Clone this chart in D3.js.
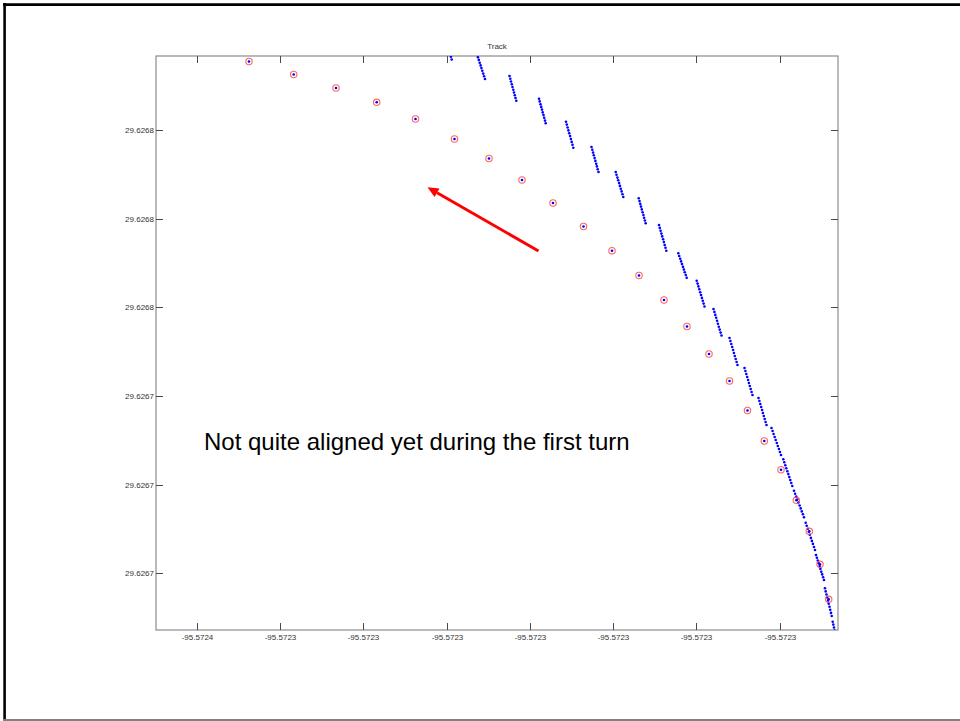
<!DOCTYPE html>
<html>
<head>
<meta charset="utf-8">
<script src="https://cdn.jsdelivr.net/npm/d3@7/dist/d3.min.js"></script>
<style>
  html, body { margin: 0; padding: 0; background: #fff; }
  svg { display: block; font-family: "Liberation Sans", Arial, Helvetica, sans-serif; }
</style>
</head>
<body>
<svg id="chart" width="960" height="721"></svg>
<script>
// GPS fixes (longitude / latitude, degrees)
const gpsLon = [-95.5723501, -95.57234563, -95.5723414, -95.57233733, -95.57233345, -95.57232955,
  -95.5723261, -95.5723228, -95.5723197, -95.57231665, -95.5723138, -95.5723111, -95.5723086,
  -95.5723063, -95.5723041, -95.57230205, -95.57230025, -95.57229857, -95.5722969, -95.57229537,
  -95.57229407, -95.572293, -95.57229213];
const gpsLat = [29.62677885, 29.62677755, 29.6267762, 29.62677477, 29.6267731, 29.6267711,
  29.62676915, 29.626767, 29.6267647, 29.62676235, 29.62675993, 29.62675745, 29.626755,
  29.62675235, 29.6267496, 29.6267469, 29.62674395, 29.6267409, 29.62673803, 29.62673497,
  29.62673187, 29.62672857, 29.62672507];

// Estimated track positions, one line per burst of samples
const trackLon = [
  -95.57233055, -95.57233047, -95.57233039, -95.57233031, -95.57233023, -95.57233015, -95.57233007, -95.57232999, -95.57232991, -95.57232983,
  -95.5723273, -95.57232721, -95.57232712, -95.57232703, -95.57232694, -95.57232686, -95.57232677, -95.57232668, -95.57232659, -95.5723265,
  -95.57232405, -95.57232397, -95.5723239, -95.57232382, -95.57232375, -95.57232367, -95.5723236, -95.57232352, -95.57232345, -95.57232337,
  -95.5723211, -95.57232103, -95.57232095, -95.57232088, -95.5723208, -95.57232073, -95.57232065, -95.57232058, -95.5723205, -95.57232043,
  -95.5723184, -95.57231832, -95.57231824, -95.57231816, -95.57231808, -95.57231799, -95.57231791, -95.57231783, -95.57231775, -95.57231767,
  -95.57231585, -95.57231577, -95.57231569, -95.57231562, -95.57231554, -95.57231546, -95.57231538, -95.57231531, -95.57231523, -95.57231515,
  -95.57231343, -95.57231335, -95.57231326, -95.57231318, -95.57231309, -95.57231301, -95.57231292, -95.57231284, -95.57231275, -95.57231267,
  -95.57231113, -95.57231105, -95.57231097, -95.5723109, -95.57231082, -95.57231074, -95.57231066, -95.57231059, -95.57231051, -95.57231043,
  -95.5723091, -95.57230902, -95.57230894, -95.57230886, -95.57230878, -95.57230869, -95.57230861, -95.57230853, -95.57230845, -95.57230837,
  -95.57230717, -95.57230708, -95.57230698, -95.57230689, -95.5723068, -95.5723067, -95.57230661, -95.57230652, -95.57230642, -95.57230633,
  -95.57230533, -95.57230524, -95.57230516, -95.57230507, -95.57230498, -95.5723049, -95.57230481, -95.57230472, -95.57230464, -95.57230455,
  -95.57230365, -95.57230356, -95.57230347, -95.57230338, -95.57230329, -95.57230321, -95.57230312, -95.57230303, -95.57230294, -95.57230285,
  -95.57230205, -95.57230196, -95.57230187, -95.57230178, -95.57230169, -95.57230161, -95.57230152, -95.57230143, -95.57230134, -95.57230125,
  -95.57230055, -95.57230046, -95.57230037, -95.57230028, -95.57230019, -95.57230011, -95.57230002, -95.57229993, -95.57229984, -95.57229975,
  -95.57229915, -95.57229906, -95.57229897, -95.57229888, -95.57229879, -95.57229871, -95.57229862, -95.57229853, -95.57229844, -95.57229835,
  -95.57229785, -95.57229774, -95.57229764, -95.57229753, -95.57229743, -95.57229732, -95.57229722, -95.57229711, -95.57229701, -95.5722969,
  -95.57229667, -95.57229657, -95.57229647, -95.57229637, -95.57229627, -95.57229617, -95.57229607, -95.57229597, -95.57229587, -95.57229577,
  -95.5722956, -95.57229549, -95.57229538, -95.57229527, -95.57229516, -95.57229504, -95.57229493, -95.57229482, -95.57229471, -95.5722946,
  -95.57229443, -95.57229433, -95.57229422, -95.57229412, -95.57229402, -95.57229391, -95.57229381, -95.57229371, -95.5722936, -95.5722935,
  -95.5722934, -95.57229331, -95.57229322, -95.57229313, -95.57229304, -95.57229296, -95.57229287, -95.57229278, -95.57229269, -95.5722926,
  -95.5722925, -95.57229243, -95.57229235, -95.57229228, -95.5722922, -95.57229213, -95.57229205, -95.57229198, -95.5722919, -95.57229183,
  -95.57229173, -95.57229167, -95.5722916, -95.57229154
];
const trackLat = [
  29.62678145, 29.62678118, 29.62678092, 29.62678065, 29.62678038, 29.62678012, 29.62677985, 29.62677958, 29.62677932, 29.62677905,
  29.62677955, 29.62677928, 29.62677901, 29.62677873, 29.62677846, 29.62677819, 29.62677792, 29.62677764, 29.62677737, 29.6267771,
  29.6267774, 29.62677713, 29.62677685, 29.62677658, 29.6267763, 29.62677603, 29.62677575, 29.62677548, 29.6267752, 29.62677493,
  29.62677513, 29.62677486, 29.62677458, 29.62677431, 29.62677404, 29.62677376, 29.62677349, 29.62677322, 29.62677294, 29.62677267,
  29.62677283, 29.62677254, 29.62677225, 29.62677196, 29.62677167, 29.62677139, 29.6267711, 29.62677081, 29.62677052, 29.62677023,
  29.6267703, 29.62677002, 29.62676974, 29.62676947, 29.62676919, 29.62676891, 29.62676863, 29.62676836, 29.62676808, 29.6267678,
  29.6267678, 29.62676752, 29.62676724, 29.62676697, 29.62676669, 29.62676641, 29.62676613, 29.62676586, 29.62676558, 29.6267653,
  29.62676517, 29.62676489, 29.62676461, 29.62676434, 29.62676406, 29.62676378, 29.6267635, 29.62676323, 29.62676295, 29.62676267,
  29.6267625, 29.62676221, 29.62676193, 29.62676164, 29.62676136, 29.62676107, 29.62676079, 29.6267605, 29.62676022, 29.62675993,
  29.62675967, 29.6267594, 29.62675913, 29.62675886, 29.62675859, 29.62675831, 29.62675804, 29.62675777, 29.6267575, 29.62675723,
  29.62675693, 29.62675664, 29.62675636, 29.62675607, 29.62675578, 29.6267555, 29.62675521, 29.62675492, 29.62675464, 29.62675435,
  29.6267541, 29.62675381, 29.62675351, 29.62675322, 29.62675292, 29.62675263, 29.62675233, 29.62675204, 29.62675174, 29.62675145,
  29.6267512, 29.6267509, 29.6267506, 29.6267503, 29.62675, 29.6267497, 29.6267494, 29.6267491, 29.6267488, 29.6267485,
  29.6267482, 29.6267479, 29.6267476, 29.6267473, 29.626747, 29.6267467, 29.6267464, 29.6267461, 29.6267458, 29.6267455,
  29.6267452, 29.6267449, 29.6267446, 29.6267443, 29.626744, 29.6267437, 29.6267434, 29.6267431, 29.6267428, 29.6267425,
  29.6267422, 29.6267419, 29.6267416, 29.6267413, 29.626741, 29.6267407, 29.6267404, 29.6267401, 29.6267398, 29.6267395,
  29.62673907, 29.62673877, 29.62673848, 29.62673818, 29.62673788, 29.62673759, 29.62673729, 29.62673699, 29.6267367, 29.6267364,
  29.62673593, 29.62673563, 29.62673534, 29.62673504, 29.62673475, 29.62673445, 29.62673416, 29.62673386, 29.62673357, 29.62673327,
  29.62673273, 29.62673243, 29.62673212, 29.62673182, 29.62673152, 29.62673121, 29.62673091, 29.62673061, 29.6267303, 29.62673,
  29.6267295, 29.62672922, 29.62672894, 29.62672867, 29.62672839, 29.62672811, 29.62672783, 29.62672756, 29.62672728, 29.626727,
  29.62672617, 29.62672586, 29.62672555, 29.62672525, 29.62672494, 29.62672463, 29.62672432, 29.62672402, 29.62672371, 29.6267234,
  29.62672283, 29.62672254, 29.62672225, 29.62672195
];

// Axis limits and ticks
const lonLimits = [-95.5723594, -95.5722912];
const latLimits = [29.626722, 29.6267794];
const xTickValues = [-95.5723553, -95.572347, -95.5723387, -95.5723303, -95.572322, -95.5723137, -95.5723054, -95.572297];
const xTickLabels = ["-95.5724", "-95.5723", "-95.5723", "-95.5723", "-95.5723", "-95.5723", "-95.5723", "-95.5723"];
const yTickValues = [29.626772, 29.6267631, 29.6267543, 29.6267454, 29.6267365, 29.6267277];
const yTickLabels = ["29.6268", "29.6268", "29.6268", "29.6267", "29.6267", "29.6267"];

const titleText = "Track";
const noteText = "Not quite aligned yet during the first turn";
// Arrow annotation: tail and tip in lon/lat
const arrowTail = [-95.57232115, 29.6267599];
const arrowTip = [-95.57233225, 29.62676627];

const W = 960, H = 721;
const box = { left: 156, right: 838, top: 56, bottom: 630 };

const svg = d3.select("#chart");
svg.append("rect").attr("width", W).attr("height", H).attr("fill", "#fff");

// slide frame: dark top and left edges, grey bottom edge
svg.append("line").attr("x1", 3).attr("y1", 4.6).attr("x2", W).attr("y2", 4.6)
  .attr("stroke", "#000").attr("stroke-width", 2.6);
svg.append("line").attr("x1", 4.6).attr("y1", 3).attr("x2", 4.6).attr("y2", H)
  .attr("stroke", "#000").attr("stroke-width", 2.6);
svg.append("line").attr("x1", 3).attr("y1", 720).attr("x2", W).attr("y2", 720)
  .attr("stroke", "#808080").attr("stroke-width", 1.8);

const x = d3.scaleLinear().domain(lonLimits).range([box.left, box.right]);
const y = d3.scaleLinear().domain(latLimits).range([box.bottom, box.top]);

svg.append("defs").append("clipPath").attr("id", "plot-clip")
  .append("rect")
  .attr("x", box.left).attr("y", box.top)
  .attr("width", box.right - box.left).attr("height", box.bottom - box.top);

// axes box
svg.append("rect")
  .attr("x", box.left).attr("y", box.top)
  .attr("width", box.right - box.left).attr("height", box.bottom - box.top)
  .attr("fill", "none").attr("stroke", "#8c8c8c").attr("stroke-width", 1.2);

function styleAxis(g) {
  g.select(".domain").remove();
  g.selectAll(".tick line").attr("stroke", "#4a4a4a").attr("stroke-width", 1);
  g.selectAll(".tick text").attr("fill", "#333").attr("font-size", "8px")
    .attr("font-family", "\"Liberation Sans\", Arial, sans-serif");
}

svg.append("g").attr("transform", `translate(0,${box.bottom})`)
  .call(d3.axisBottom(x).tickValues(xTickValues).tickFormat((d, i) => xTickLabels[i])
    .tickSize(-7).tickPadding(4))
  .call(styleAxis);
svg.append("g").attr("transform", `translate(0,${box.top})`)
  .call(d3.axisTop(x).tickValues(xTickValues).tickFormat(() => "").tickSize(-7))
  .call(styleAxis);
svg.append("g").attr("transform", `translate(${box.left},0)`)
  .call(d3.axisLeft(y).tickValues(yTickValues).tickFormat((d, i) => yTickLabels[i])
    .tickSize(-7).tickPadding(2))
  .call(styleAxis);
svg.append("g").attr("transform", `translate(${box.right},0)`)
  .call(d3.axisRight(y).tickValues(yTickValues).tickFormat(() => "").tickSize(-7))
  .call(styleAxis);

const plot = svg.append("g").attr("clip-path", "url(#plot-clip)");

// estimated track: small blue points
plot.append("g").selectAll("circle")
  .data(d3.range(trackLon.length))
  .join("circle")
  .attr("cx", i => x(trackLon[i]))
  .attr("cy", i => y(trackLat[i]))
  .attr("r", 1.3)
  .attr("fill", "#0000ff");

// GPS fixes: red rings with blue centre point
const gps = plot.append("g");
gps.selectAll("circle.ring")
  .data(d3.range(gpsLon.length))
  .join("circle")
  .attr("class", "ring")
  .attr("cx", i => x(gpsLon[i]))
  .attr("cy", i => y(gpsLat[i]))
  .attr("r", 3.2)
  .attr("fill", "none")
  .attr("stroke", "#ff4040")
  .attr("stroke-opacity", 0.8)
  .attr("stroke-width", 1.1);
gps.selectAll("circle.dot")
  .data(d3.range(gpsLon.length))
  .join("circle")
  .attr("class", "dot")
  .attr("cx", i => x(gpsLon[i]))
  .attr("cy", i => y(gpsLat[i]))
  .attr("r", 1.3)
  .attr("fill", "#0000ff");

// title
svg.append("text")
  .attr("x", (box.left + box.right) / 2).attr("y", 49)
  .attr("text-anchor", "middle")
  .attr("font-size", "8px").attr("fill", "#333")
  .text(titleText);

// arrow annotation
{
  const x0 = x(arrowTail[0]), y0 = y(arrowTail[1]);
  const x1 = x(arrowTip[0]), y1 = y(arrowTip[1]);
  const a = Math.atan2(y1 - y0, x1 - x0);
  const headLen = 11, headHalf = 5;
  const bx = x1 - headLen * Math.cos(a), by = y1 - headLen * Math.sin(a);
  const px = -Math.sin(a), py = Math.cos(a);
  svg.append("line")
    .attr("x1", x0).attr("y1", y0).attr("x2", bx).attr("y2", by)
    .attr("stroke", "#ff0000").attr("stroke-width", 3);
  svg.append("polygon")
    .attr("points", [[x1, y1], [bx + px * headHalf, by + py * headHalf], [bx - px * headHalf, by - py * headHalf]]
      .map(p => p.join(",")).join(" "))
    .attr("fill", "#ff0000");
}

// note text
svg.append("text")
  .attr("x", 204).attr("y", 450)
  .attr("font-size", "24px").attr("fill", "#000")
  .text(noteText);
</script>
</body>
</html>
